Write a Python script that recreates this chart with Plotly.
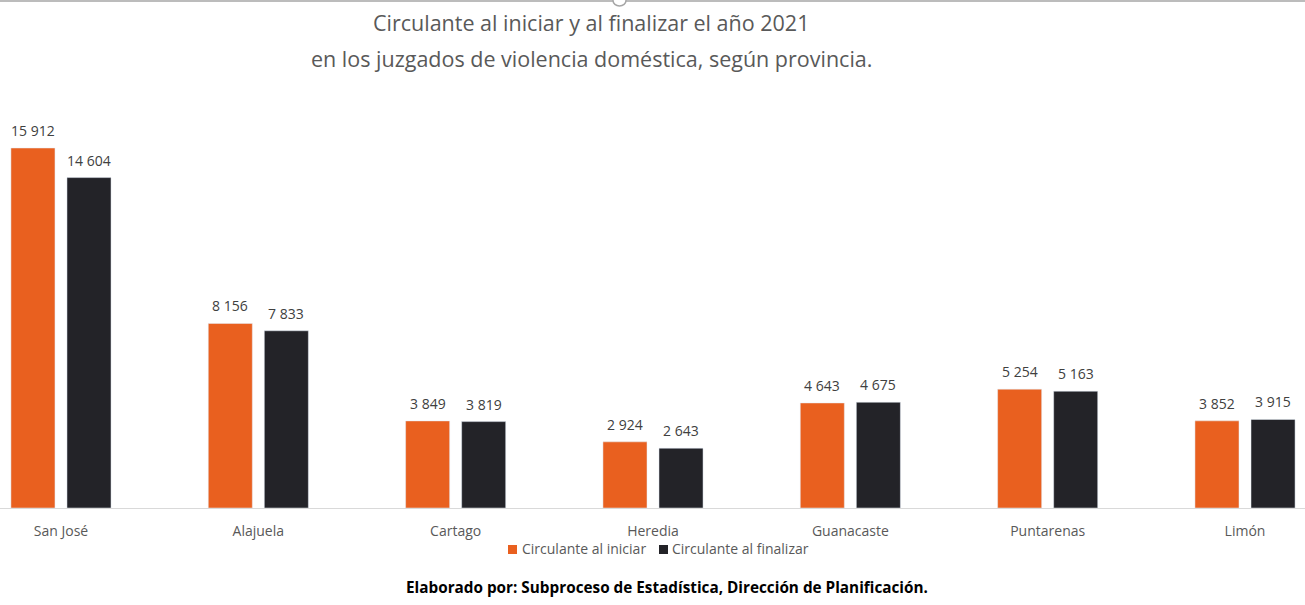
import plotly.graph_objects as go

categories = ["San José", "Alajuela", "Cartago", "Heredia", "Guanacaste", "Puntarenas", "Limón"]
circ_iniciar = [15912, 8156, 3849, 2924, 4643, 5254, 3852]
circ_finalizar = [14604, 7833, 3819, 2643, 4675, 5163, 3915]
series_names = ["Circulante al iniciar", "Circulante al finalizar"]
title_lines = ["Circulante al iniciar y al finalizar el año 2021",
               "en los juzgados de violencia doméstica, según provincia."]
footer = "Elaborado por: Subproceso de Estadística, Dirección de Planificación."

ORANGE = "#E9601F"
DARK = "#232328"
GRAY = "#595959"
FONT = "Open Sans"


def fmt(v):
    return f"{v:,}".replace(",", " ")


W, H = 1305, 605
T, B = 90, 97
ph = H - T - B

fig = go.Figure()
fig.add_trace(go.Bar(x=categories, y=circ_iniciar, name=series_names[0],
                     marker_color=ORANGE, hoverinfo="x+y", showlegend=False))
fig.add_trace(go.Bar(x=categories, y=circ_finalizar, name=series_names[1],
                     marker_color=DARK, hoverinfo="x+y", showlegend=False))
# legend-only entries (labels); swatches drawn as small squares next to the text
for nm, lg in zip(series_names, ("legend", "legend2")):
    fig.add_trace(go.Scatter(x=[None], y=[None], mode="markers", name=nm,
                             marker=dict(symbol="square", size=9, color="rgba(0,0,0,0)"),
                             showlegend=True, hoverinfo="skip", legend=lg))

annotations = []
for vals, shift in ((circ_iniciar, -28), (circ_finalizar, 28)):
    for c, v in zip(categories, vals):
        annotations.append(dict(x=c, y=v, xref="x", yref="y", text=fmt(v),
                                showarrow=False, xshift=shift, yshift=6,
                                yanchor="bottom",
                                font=dict(family=FONT, size=14, color="#404040")))

paper_texts = [
    (591, 22, title_lines[0], dict(family=FONT, size=21.5, color=GRAY)),
    (591, 58, title_lines[1], dict(family=FONT, size=21.5, color=GRAY)),
    (667, 587, "<b>" + footer + "</b>", dict(family=FONT, size=15.3, color="#000000")),
]
for px, py, txt, f in paper_texts:
    annotations.append(dict(x=px / W, y=(H - B - py) / ph, xref="paper", yref="paper",
                            xanchor="center", yanchor="middle", text=txt,
                            showarrow=False, font=f))

legend_common = dict(orientation="h", xanchor="left", y=-41 / ph, yanchor="middle",
                     font=dict(family=FONT, size=14, color=GRAY), itemwidth=30,
                     bgcolor="rgba(0,0,0,0)")


def px_x(v):
    return v / W


def px_y(v):
    return (H - B - v) / ph


shapes = [dict(type="line", xref="paper", yref="paper", x0=0, x1=1,
               y0=px_y(1), y1=px_y(1), line=dict(color="#A6A6A6", width=1.5)),
          dict(type="circle", xref="paper", yref="paper",
               x0=px_x(613), x1=px_x(626), y0=px_y(-5), y1=px_y(6),
               line=dict(color="#A6A6A6", width=1.5), fillcolor="white")]
for x0, col in ((508, ORANGE), (659, DARK)):
    shapes.append(dict(type="rect", xref="paper", yref="paper",
                       x0=px_x(x0), x1=px_x(x0 + 9), y0=px_y(554), y1=px_y(545),
                       line=dict(width=0), fillcolor=col))

fig.update_layout(
    width=W, height=H,
    margin=dict(l=0, r=0, t=T, b=B, pad=0),
    paper_bgcolor="white", plot_bgcolor="white",
    barmode="group", bargap=0.432, bargroupgap=0.214,
    showlegend=True,
    legend=dict(x=(522 - 40) / W, **legend_common),
    legend2=dict(x=(672 - 40) / W, **legend_common),
    xaxis=dict(range=[-0.309, 6.304], showgrid=False, showline=True, linecolor="#D9D9D9",
               linewidth=1, ticks="", ticklabelstandoff=10,
               tickfont=dict(family=FONT, size=14, color=GRAY), fixedrange=True),
    yaxis=dict(range=[0, 15912 * ph / 360], visible=False, showgrid=False, fixedrange=True),
    annotations=annotations,
    shapes=shapes,
    font=dict(family=FONT),
)

fig.write_html("out.html")
